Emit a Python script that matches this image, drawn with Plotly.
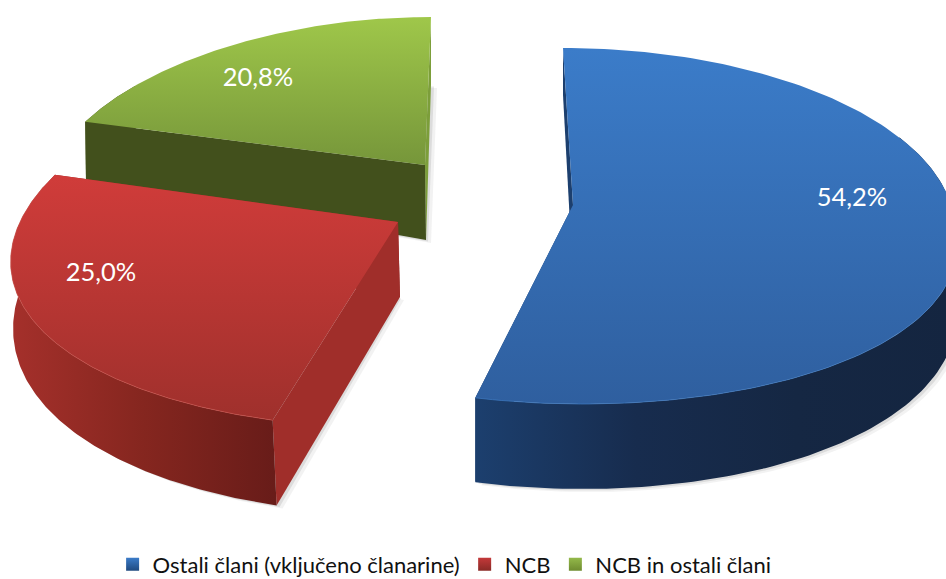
import numpy as np
import plotly.graph_objects as go

categories = ["Ostali člani (vključeno članarine)", "NCB", "NCB in ostali člani"]
shares = [54.2, 25.0, 20.8]

# per-slice projection of the unit circle onto the page (fitted to the picture)
geometry = [
    dict(ax=573, ay=205, A=382, kf=0.0, kn=0.08, S=-10, Bm=178, dB=-21, C=21, hm=66, dh=-19, sx=0, apex_h=74),
    dict(ax=398, ay=222, A=378, kf=0.21, kn=0.21, S=7, Bm=186, dB=-20, C=0, hm=63, dh=-23, sx=2, apex_h=75),
    dict(ax=425, ay=165, A=372, kf=0.19, kn=0.19, S=6, Bm=172, dB=-24, C=0, hm=54, dh=14, sx=1, apex_h=75),
]
style = [
    dict(top=["#2f5f9f", "#3b7cc9"], outer=["#1c3f6e", "#172c4e", "#152743", "#142540"], first="#1c3f6e", last="#1c3f6e", rim="#3f7cc4"),
    dict(top=["#9f302c", "#d03c3a"], outer=["#a5302b", "#85261f", "#681c19"], first="#a02e2a", last="#9a2c28", rim="#c9504a"),
    dict(top=["#76963a", "#9fc74a"], outer=["#42501c", "#42501c"], first="#42501c", last="#7c9e3a", rim="#8aa840"),
]
label_pos = [(852, 200), (101, 275), (258, 80)]
legend_colors = ["#3b7cc9", "#c4393a", "#94b94a"]
legend_dark = ["#1f4a80", "#8a2a26", "#6f8c30"]

fractions = np.array(shares) / sum(shares)
edges = np.concatenate([[0], np.cumsum(fractions)]) * 2 * np.pi


def project(g, theta):
    X, Y = np.sin(theta), np.cos(theta)
    k = np.where(Y < 0, g["kn"], g["kf"])
    x = g["ax"] + g["A"] * X * (1 - k * Y) + g["S"] * Y
    y = g["ay"] + g["C"] * (1 - Y ** 2) - (g["Bm"] + g["dB"] * Y) * Y
    return x, y


def drop(g, theta):
    Y = np.cos(theta)
    return g["sx"] * (1 - Y), g["hm"] + g["dh"] * Y


def poly(xs, ys, color=None, grad=None, gtype="vertical"):
    kw = dict(x=np.asarray(xs).tolist(), y=np.asarray(ys).tolist(), mode="lines", fill="toself",
              line=dict(width=0), hoverinfo="skip", showlegend=False)
    if grad:
        n = len(grad) - 1
        kw["fillgradient"] = dict(type=gtype, colorscale=[[i / n, c] for i, c in enumerate(grad)])
    else:
        kw["fillcolor"] = color
    return go.Scatter(**kw)


fig = go.Figure()

for i in [2, 1, 0]:
    g, st = geometry[i], style[i]
    t = np.linspace(edges[i], edges[i + 1], 160)
    x, y = project(g, t)
    dx, dy = drop(g, t)
    ax, ay, ah = g["ax"], g["ay"], g["apex_h"]
    # soft drop shadow
    for off, op in ((6, 0.08), (3, 0.14)):
        sx = np.r_[ax, x + dx, ax] + off
        sy = np.r_[ay + ah, y + dy, ay + ah] + off * 0.5
        fig.add_trace(poly(sx, sy, color=f"rgba(90,90,90,{op})"))
    # inner faces, back one first
    for th, col in ((t[-1], st["last"]), (t[0], st["first"])):
        px, py = project(g, th)
        qx, qy = drop(g, th)
        fig.add_trace(poly([ax, px, px + qx, ax + g["sx"], ax],
                           [ay, py, py + qy, ay + ah, ay], color=col))
    # outer wall: only the part facing the viewer
    vis = np.cos(t) < 0.5
    fig.add_trace(poly(np.r_[x[vis], (x + dx)[vis][::-1]], np.r_[y[vis], (y + dy)[vis][::-1]],
                       grad=st["outer"], gtype="horizontal"))
    # top face
    fig.add_trace(poly(np.r_[ax, x, ax], np.r_[ay, y, ay], grad=st["top"], gtype="vertical"))
    # highlight along the near rim
    near = np.cos(t) < 0.2
    fig.add_trace(go.Scatter(x=x[near].tolist(), y=y[near].tolist(), mode="lines",
                             line=dict(width=1, color=st["rim"]), opacity=0.7,
                             hoverinfo="skip", showlegend=False))

# value labels
fig.add_trace(go.Scatter(
    x=[p[0] for p in label_pos], y=[p[1] for p in label_pos],
    text=[f"{v:.1f}%".replace(".", ",") for v in shares],
    mode="text", textfont=dict(family="Lato", size=25.5, color="white"),
    hoverinfo="skip", showlegend=False))

# legend entries
for name, col, dark in zip(categories, legend_colors, legend_dark):
    fig.add_trace(go.Scatter(x=[None], y=[None], mode="markers", name=name,
                             marker=dict(symbol="square", size=13, color=col,
                                         gradient=dict(type="vertical", color=dark))))

fig.update_xaxes(range=[0, 946], visible=False, fixedrange=True)
fig.update_yaxes(range=[579, 0], visible=False, fixedrange=True)
fig.update_layout(
    width=946, height=579, margin=dict(l=0, r=0, t=0, b=0, autoexpand=False),
    paper_bgcolor="white", plot_bgcolor="white",
    font=dict(family="Lato", size=22, color="#111"),
    legend=dict(orientation="h", x=0.47, xanchor="center", y=-0.011, yanchor="bottom",
                bgcolor="rgba(0,0,0,0)", tracegroupgap=0, font=dict(size=22)),
)
fig.write_html("out.html", config=dict(displayModeBar=False),
               post_script="document.body.style.margin='0';document.documentElement.style.overflow='hidden';")
